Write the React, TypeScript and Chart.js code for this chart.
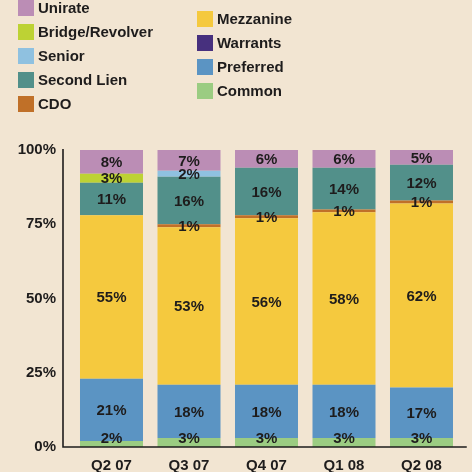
import React, { useEffect, useRef } from "react";
import { Chart, registerables } from "chart.js";

Chart.register(...registerables);

const categories = ["Q2 07", "Q3 07", "Q4 07", "Q1 08", "Q2 08"];
const common = [2, 3, 3, 3, 3];
const preferred = [21, 18, 18, 18, 17];
const warrants = [0, 0, 0, 0, 0];
const mezzanine = [55, 53, 56, 58, 62];
const cdo = [0, 1, 1, 1, 1];
const secondLien = [11, 16, 16, 14, 12];
const senior = [0, 2, 0, 0, 0];
const bridgeRevolver = [3, 0, 0, 0, 0];
const unirate = [8, 7, 6, 6, 5];
const yTickValues = [0, 25, 50, 75, 100];

const FONT = '"Liberation Sans", Arial, sans-serif';
const TEXT = "#1e1c1c";
const BG = "#f2e5d2";

const series = [
  { label: "Common", data: common, color: "#9bcc82" },
  { label: "Preferred", data: preferred, color: "#5b94c3" },
  { label: "Warrants", data: warrants, color: "#47307e" },
  { label: "Mezzanine", data: mezzanine, color: "#f5c93e" },
  { label: "CDO", data: cdo, color: "#c07028" },
  { label: "Second Lien", data: secondLien, color: "#52908a" },
  { label: "Senior", data: senior, color: "#8fc1e0" },
  { label: "Bridge/Revolver", data: bridgeRevolver, color: "#bdd234" },
  { label: "Unirate", data: unirate, color: "#bb8db5" },
];

const legendLeft = ["Unirate", "Bridge/Revolver", "Senior", "Second Lien", "CDO"];
const legendRight = ["Mezzanine", "Warrants", "Preferred", "Common"];

const axisLines = {
  id: "axisLines",
  afterDatasetsDraw(chart: any) {
    const { ctx, chartArea } = chart;
    ctx.save();
    ctx.strokeStyle = TEXT;
    ctx.lineWidth = 1.6;
    ctx.beginPath();
    const x0 = chartArea.left - 9.75;
    ctx.moveTo(x0, chartArea.top - 1);
    ctx.lineTo(x0, chartArea.bottom);
    ctx.lineTo(chartArea.right + 6.5, chartArea.bottom);
    ctx.stroke();
    ctx.restore();
  },
};

const barLabels = {
  id: "barLabels",
  afterDatasetsDraw(chart: any) {
    const { ctx, chartArea } = chart;
    ctx.save();
    ctx.font = `bold 15px ${FONT}`;
    ctx.fillStyle = TEXT;
    ctx.textAlign = "center";
    ctx.textBaseline = "middle";
    chart.data.datasets.forEach((ds: any, di: number) => {
      const meta = chart.getDatasetMeta(di);
      meta.data.forEach((el: any, i: number) => {
        const v = ds.data[i];
        if (!v) return;
        const mid = (el.y + el.base) / 2;
        const y = Math.min(mid, chartArea.bottom - 9);
        ctx.fillText(`${v}%`, el.x, y + 1);
      });
    });
    ctx.restore();
  },
};

function LegendColumn({ names, left, top }: { names: string[]; left: number; top: number }) {
  return (
    <div style={{ position: "absolute", left, top }}>
      {names.map((n) => {
        const s = series.find((x) => x.label === n)!;
        return (
          <div key={n} style={{ display: "flex", alignItems: "center", height: 24 }}>
            <div style={{ width: 16, height: 16, background: s.color, marginRight: 4 }} />
            <span style={{ font: `bold 15px ${FONT}`, color: TEXT, lineHeight: "24px" }}>{n}</span>
          </div>
        );
      })}
    </div>
  );
}

export default function App() {
  const ref = useRef<HTMLCanvasElement>(null);
  useEffect(() => {
    document.body.style.margin = "0";
    document.body.style.background = BG;
    const chart = new Chart(ref.current!, {
      type: "bar",
      data: {
        labels: categories,
        datasets: series.map((s) => ({
          label: s.label,
          data: s.data,
          backgroundColor: s.color,
          borderWidth: 0,
          barPercentage: 0.813,
          categoryPercentage: 1,
        })),
      },
      options: {
        animation: false,
        responsive: false,
        maintainAspectRatio: false,
        layout: { padding: { top: 150, right: 11.75, left: 0, bottom: 0 } },
        plugins: { legend: { display: false }, tooltip: { enabled: false } },
        scales: {
          x: {
            stacked: true,
            grid: { display: false },
            border: { display: false },
            ticks: { color: TEXT, font: { family: FONT, size: 15, weight: "bold" }, padding: 1.5 },
            afterFit: (s: any) => {
              s.height = 25;
            },
          },
          y: {
            stacked: true,
            min: 0,
            max: 100,
            grid: { display: false },
            border: { display: false },
            afterBuildTicks: (s: any) => {
              s.ticks = yTickValues.map((v) => ({ value: v }));
            },
            ticks: {
              color: TEXT,
              font: { family: FONT, size: 15, weight: "bold" },
              padding: 8.75,
              callback: (v: any) => `${v}%`,
            },
            afterFit: (s: any) => {
              s.width = 72.75;
            },
          },
        },
      },
      plugins: [axisLines, barLabels],
    });
    return () => chart.destroy();
  }, []);
  return (
    <div style={{ position: "fixed", left: 0, top: 0, width: 472, height: 472, background: BG, overflow: "hidden" }}>
      <canvas ref={ref} width={472} height={472} style={{ position: "absolute", left: 0, top: 0 }} />
      <LegendColumn names={legendLeft} left={18} top={-4} />
      <LegendColumn names={legendRight} left={197} top={7} />
    </div>
  );
}
